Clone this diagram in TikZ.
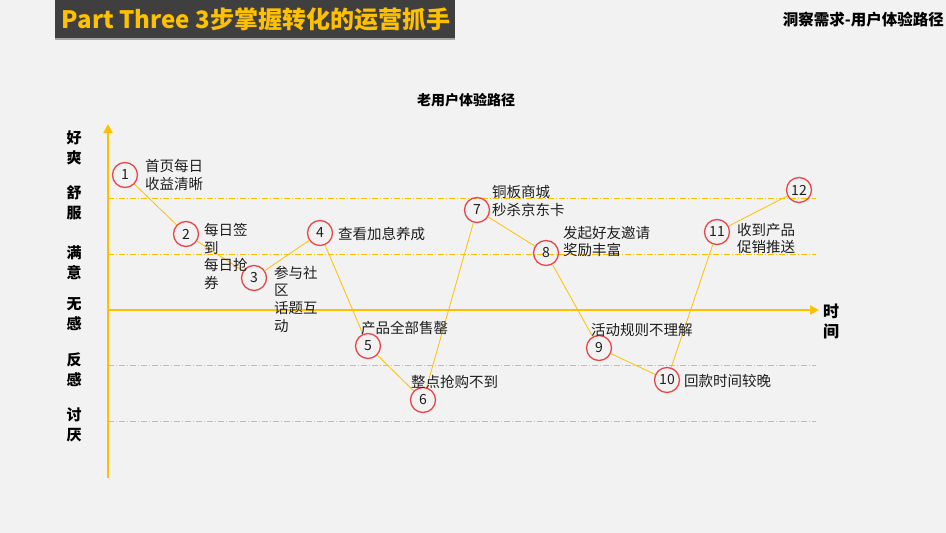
\documentclass[tikz,border=0pt]{standalone}
\usepackage{fontspec}
\setmainfont{Noto Sans CJK SC}
\usetikzlibrary{arrows.meta}
\definecolor{gold}{HTML}{FFC000}
\definecolor{ringred}{HTML}{E8464B}
\definecolor{bargray}{HTML}{3F3F3F}
\definecolor{paper}{HTML}{F2F2F2}
\definecolor{ink}{HTML}{1E1E1E}

\begin{document}
\begin{tikzpicture}[x=1pt,y=-1pt,
	stage/.style={circle,draw=ringred,line width=1.3pt,minimum size=25pt,inner sep=0pt,text=ink,font=\fontsize{14}{14}\selectfont},
	note/.style={anchor=west,align=left,inner sep=0pt,text=ink,font=\fontsize{14.5}{17.7}\selectfont},
	mood/.style={align=center,inner sep=0pt,text=black,font=\bfseries\fontsize{15}{20}\selectfont},
	guide/.style={gold,line width=0.8pt,dash pattern=on 6pt off 2pt on 1pt off 2pt}]
	
	\fill[paper] (0,0) rectangle (946,533);
	\useasboundingbox (0,0) rectangle (946,533);
	
	% header
	\fill[bargray] (55,0) rectangle (455,38);
	\fill[gray!70] (55,38) rectangle (455,40);
	\node[text=gold,inner sep=0pt,font=\bfseries\fontsize{24}{24}\selectfont] (title) at (256,19) {Part Three 3步掌握转化的运营抓手};
	\node[anchor=east,inner sep=0pt,text=black,font=\bfseries\fontsize{15.5}{15.5}\selectfont] (crumb) at (944,20) {洞察需求-用户体验路径};
	\node[inner sep=0pt,text=black,font=\bfseries\fontsize{14}{14}\selectfont] (chart) at (466,100) {老用户体验路径};
	
	% levels
	\foreach \y in {198,254,365,421}{
		\draw[guide] (108,\y) -- (816,\y);
	}
	
	% axes
	\coordinate (o) at (108,478);
	\coordinate (yend) at (108,124);
	\coordinate (xstart) at (108,310);
	\coordinate (xend) at (819,310);
	\draw[gold,line width=2.2pt,-{Triangle[length=9pt,width=9pt]}] (o) -- (yend);
	\draw[gold,line width=2.2pt,-{Triangle[length=9pt,width=9pt]}] (xstart) -- (xend);
	\node[mood,font=\bfseries\fontsize{16}{19.5}\selectfont] (time) at (831,321.5) {时\\间};
	
	\node[mood] (m1) at (74,148) {好\\爽};
	\node[mood] (m2) at (74,203) {舒\\服};
	\node[mood] (m3) at (74,262.5) {满\\意};
	\node[mood] (m4) at (74,314.5) {无\\感};
	\node[mood] (m5) at (74,370) {反\\感};
	\node[mood] (m6) at (74,425) {讨\\厌};
	
	% path of the user
	\node[stage] (c1) at (125,175) {1};
	\node[stage] (c2) at (186,234) {2};
	\node[stage] (c3) at (254,278) {3};
	\node[stage] (c4) at (320,233) {4};
	\node[stage] (c5) at (368,346) {5};
	\node[stage] (c6) at (423,400) {6};
	\node[stage] (c7) at (477,210) {7};
	\node[stage] (c8) at (546,253) {8};
	\node[stage] (c9) at (599,348) {9};
	\node[stage] (c10) at (667,380) {10};
	\node[stage] (c11) at (717,232) {11};
	\node[stage] (c12) at (799,190) {12};
	
	\foreach \a/\b in {1/2,2/3,3/4,4/5,5/6,6/7,7/8,8/9,9/10,10/11,11/12}{
		\draw[gold,line width=0.8pt] (c\a) -- (c\b);
	}
	
	\node[note] (n1) at (145,175) {首页每日\\收益清晰};
	\node[note] (n2) at (204,256.5) {每日签\\到\\每日抢\\券};
	\node[note] (n3) at (274,299) {参与社\\区\\话题互\\动};
	\node[note] (n4) at (338,234) {查看加息养成};
	\node[note] (n5) at (361,328) {产品全部售罄};
	\node[note] (n6) at (411,382) {整点抢购不到};
	\node[note] (n7) at (492,201) {铜板商城\\秒杀京东卡};
	\node[note] (n8) at (563,241.5) {发起好友邀请\\奖励丰富};
	\node[note] (n9) at (591,330) {活动规则不理解};
	\node[note] (n10) at (684,381) {回款时间较晚};
	\node[note] (n11) at (737,238.5) {收到产品\\促销推送};
	
\end{tikzpicture}
\end{document}
